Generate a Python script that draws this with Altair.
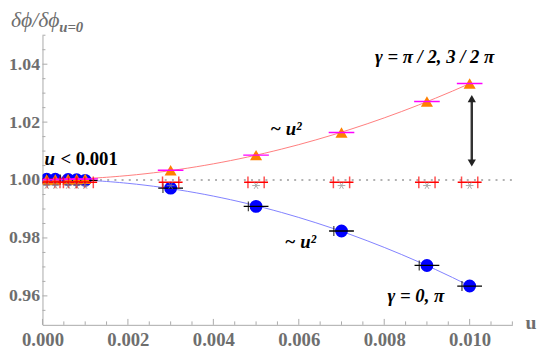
import altair as alt
import pandas as pd

# ---- data ----
u_vals = [0.0001, 0.0003, 0.0006, 0.0008, 0.001, 0.003, 0.005, 0.007, 0.009, 0.010]
ratio_half = [1.0002, 1.0002, 1.0003, 1.0003, 1.0004, 1.0034, 1.0086, 1.0164, 1.0271, 1.0333]
ratio_zero = [1.0003, 1.0003, 1.0002, 1.0001, 0.9999, 0.9972, 0.9909, 0.9824, 0.9705, 0.9634]
ratio_mid = [0.9992, 0.9992, 0.9992, 0.9992, 0.9992, 0.9992, 0.9992, 0.9992, 0.9992, 0.9992]
ratio_star = [0.9981, 0.9981, 0.9981, 0.9981, 0.9981, 0.9981, 0.9981, 0.9981, 0.9981, 0.9981]

y_major = [0.96, 0.98, 1.00, 1.02, 1.04]
y_minor = [0.955, 0.965, 0.97, 0.975, 0.985, 0.99, 0.995, 1.005, 1.01, 1.015,
           1.025, 1.03, 1.035, 1.045, 1.05]
x_major = [0.0, 0.002, 0.004, 0.006, 0.008, 0.010]
x_minor = [0.0005, 0.001, 0.0015, 0.0025, 0.003, 0.0035, 0.0045, 0.005, 0.0055,
           0.0065, 0.007, 0.0075, 0.0085, 0.009, 0.0095, 0.0105, 0.011]

ann_text = ["~ u²", "~ u²", "γ = π / 2, 3 / 2 π", "γ = 0, π"]
ann_u = [0.0057, 0.00604, 0.00918, 0.00874]
ann_r = [1.0177, 0.9786, 1.0425, 0.9599]

arrow_u = [0.01005]
arrow_lo = [1.0059]
arrow_hi = [1.0281]

ref_u = [0.0, 0.011]
ref_r = [1.0, 1.0]

W, H = 477, 294
FONT = "Liberation Serif"
GRAY = "#6e6e6e"

xs = alt.Scale(domain=[0, 0.011], nice=False, zero=False)
ys = alt.Scale(domain=[0.95, 1.05], nice=False, zero=False)

pts = pd.DataFrame({"u": u_vals, "half": ratio_half, "zero": ratio_zero,
                    "mid": ratio_mid, "star": ratio_star})
base = alt.Chart(pts)

AX = alt.Axis(values=x_major, format=".3f", ticks=False, labelPadding=6,
              grid=False, title=None, labelFlush=False, labelOverlap=False,
              labelFontSize=19)
AY = alt.Axis(values=y_major, format=".2f", ticks=False, labelPadding=3,
              grid=False, title=None, labelFlush=False, labelOverlap=False,
              labelFontSize=18)

X = lambda f: alt.X(f, type="quantitative", scale=xs, axis=AX, title=None)
Y = lambda f: alt.Y(f, type="quantitative", scale=ys, axis=AY, title=None)

# reference dotted line at 1
ref = alt.Chart(pd.DataFrame({"u": ref_u, "r": ref_r})).mark_line(
    color="#999999", strokeWidth=1.6, strokeDash=[2, 5.3]
).encode(x=X("u"), y=Y("r"))

fit_half = base.transform_regression("u", "half", method="poly", order=2,
                                     extent=[0, 0.01]).mark_line(
    color="#ff7d7d", strokeWidth=1).encode(x=X("u"), y=Y("half"))
fit_zero = base.transform_regression("u", "zero", method="poly", order=2,
                                     extent=[0, 0.01]).mark_line(
    color="#8080ff", strokeWidth=1).encode(x=X("u"), y=Y("zero"))

circles = base.mark_point(shape="circle", filled=True, size=170, color="#0000ff",
                          opacity=1, clip=True).encode(x=X("u"), y=Y("zero"))
black_bar = base.transform_calculate(lo="datum.u - 0.00029", hi="datum.u + 0.00029").mark_rule(
    color="#000000", strokeWidth=1.3, clip=True).encode(x=X("lo"), x2="hi:Q", y=Y("zero"))
black_tick = base.transform_calculate(lo="datum.u - 0.00018").mark_tick(
    color="#000000", thickness=1.3, size=10, orient="vertical", clip=True).encode(
    x=X("lo"), y=Y("zero"))

tris = base.mark_point(shape="triangle-up", filled=True, size=150, color="#ff8000",
                       opacity=1, clip=True).encode(x=X("u"), y=Y("half"))
mag_bar = base.transform_calculate(lo="datum.u - 0.0003", hi="datum.u + 0.0003").mark_rule(
    color="#ff00ff", strokeWidth=1.5, clip=True).encode(x=X("lo"), x2="hi:Q", y=Y("half"))

red_bar = base.transform_calculate(lo="datum.u - 0.00028", hi="datum.u + 0.00028").mark_rule(
    color="#ff0000", strokeWidth=1.5, clip=True).encode(x=X("lo"), x2="hi:Q", y=Y("mid"))
red_tick_l = base.transform_calculate(p="datum.u - 0.00019").mark_tick(
    color="#ff0000", thickness=1.5, size=12, orient="vertical", clip=True).encode(
    x=X("p"), y=Y("mid"))
red_tick_r = base.transform_calculate(p="datum.u + 0.00019").mark_tick(
    color="#ff0000", thickness=1.5, size=12, orient="vertical", clip=True).encode(
    x=X("p"), y=Y("mid"))

star_path = "M-1,0L1,0M-0.5,-0.87L0.5,0.87M-0.5,0.87L0.5,-0.87"
stars = base.mark_point(shape=star_path, size=60, color="#8a8a8a", strokeWidth=1,
                        filled=False, clip=True).encode(x=X("u"), y=Y("star"))

arr = alt.Chart(pd.DataFrame({"u": arrow_u, "lo": arrow_lo, "hi": arrow_hi}))
arrow_line = arr.mark_rule(color="#333333", strokeWidth=2.5).encode(
    x=X("u"), y=Y("lo"), y2="hi:Q")
arrow_top = arr.mark_point(shape="triangle-up", filled=True, size=70, color="#222222",
                           opacity=1).encode(x=X("u"), y=Y("hi"))
arrow_bot = arr.mark_point(shape="triangle-down", filled=True, size=70, color="#222222",
                           opacity=1).encode(x=X("u"), y=Y("lo"))

ann = alt.Chart(pd.DataFrame({"t": ann_text, "u": ann_u, "r": ann_r})).mark_text(
    font=FONT, fontSize=19, fontWeight="bold", fontStyle="italic", color="#000000",
    align="center", baseline="middle").encode(x=X("u"), y=Y("r"), text="t:N")

# "u < 0.001" label
small_u = [0.00005]
small_r = [1.0073]
lab_df = pd.DataFrame({"u": small_u, "r": small_r, "a": ["u"], "b": ["< 0.001"]})
lab_a = alt.Chart(lab_df).mark_text(font=FONT, fontSize=19, fontWeight="bold",
                                    fontStyle="italic", align="left", baseline="middle",
                                    color="#000000").encode(x=X("u"), y=Y("r"), text="a:N")
lab_b = alt.Chart(lab_df).mark_text(font=FONT, fontSize=19, fontWeight="bold",
                                    align="left", baseline="middle", dx=16,
                                    color="#000000").encode(x=X("u"), y=Y("r"), text="b:N")

# axis ticks drawn inward
yt_maj = alt.Chart(pd.DataFrame({"v": y_major})).mark_rule(color="#aaaaaa").encode(
    y=Y("v"), x=alt.value(0), x2=alt.value(5))
yt_min = alt.Chart(pd.DataFrame({"v": y_minor})).mark_rule(color="#aaaaaa").encode(
    y=Y("v"), x=alt.value(0), x2=alt.value(3))
xt_maj = alt.Chart(pd.DataFrame({"v": x_major})).mark_rule(color="#aaaaaa").encode(
    x=X("v"), y=alt.value(H), y2=alt.value(H - 6))
xt_min = alt.Chart(pd.DataFrame({"v": x_minor})).mark_rule(color="#aaaaaa").encode(
    x=X("v"), y=alt.value(H), y2=alt.value(H - 3.5))

# axis names as text
title_df = pd.DataFrame({"a": ["δϕ/δϕ"], "b": ["u=0"], "c": ["u"]})
title_a = alt.Chart(title_df).mark_text(font=FONT, fontSize=22, fontStyle="italic",
                                        color=GRAY, align="left", baseline="alphabetic").encode(
    x=alt.value(-32), y=alt.value(-8), text="a:N")
title_b = alt.Chart(title_df).mark_text(font=FONT, fontSize=15, fontStyle="italic",
                                        fontWeight="bold", color=GRAY, align="left",
                                        baseline="alphabetic").encode(
    x=alt.value(17), y=alt.value(-3), text="b:N")
title_c = alt.Chart(title_df).mark_text(font=FONT, fontSize=20, fontWeight="bold",
                                        color=GRAY, align="center",
                                        baseline="middle").encode(
    x=alt.value(496), y=alt.value(H - 2), text="c:N")

chart = alt.layer(
    ref, yt_maj, yt_min, xt_maj, xt_min,
    fit_half, fit_zero,
    circles, black_bar, black_tick,
    tris, mag_bar,
    red_bar, red_tick_l, red_tick_r, stars,
    arrow_line, arrow_top, arrow_bot,
    ann, lab_a, lab_b, title_a, title_b, title_c,
).properties(
    width=W, height=H, autosize="none",
    padding={"left": 35, "top": 25, "right": 25, "bottom": 30},
).configure_view(stroke=None).configure_axis(
    domainColor="#aaaaaa", domainWidth=1, labelFont=FONT,
    labelFontWeight="bold", labelColor=GRAY,
)

chart.save("out.html", embed_options={"renderer": "svg", "actions": False})
